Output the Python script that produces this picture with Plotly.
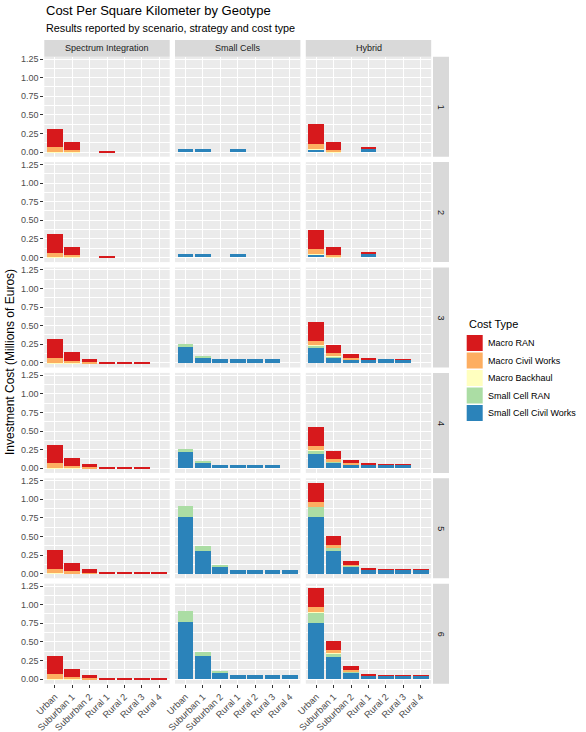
import plotly.graph_objects as go

W, H = 586, 732

geotypes = ["Urban", "Suburban 1", "Suburban 2", "Rural 1", "Rural 2", "Rural 3", "Rural 4"]
strategies = ["Spectrum Integration", "Small Cells", "Hybrid"]
scenarios = ["1", "2", "3", "4", "5", "6"]
cost_types = ["Macro RAN", "Macro Civil Works", "Macro Backhaul", "Small Cell RAN", "Small Cell Civil Works"]
cost_colors = ["#D7191C", "#FDAE61", "#FFFFBF", "#ABDDA4", "#2B83BA"]

# ---- Spectrum Integration (one row of 7 geotypes per scenario) ----
si_macro_ran = [
    [0.250, 0.108, 0.000, 0.008, 0.000, 0.000, 0.000],
    [0.250, 0.108, 0.000, 0.008, 0.000, 0.000, 0.000],
    [0.252, 0.110, 0.045, 0.013, 0.007, 0.006, 0.000],
    [0.252, 0.110, 0.045, 0.013, 0.007, 0.006, 0.000],
    [0.252, 0.110, 0.045, 0.013, 0.007, 0.006, 0.006],
    [0.252, 0.110, 0.045, 0.013, 0.007, 0.006, 0.006],
]
si_macro_civil = [
    [0.060, 0.028, 0.000, 0.003, 0.000, 0.000, 0.000],
    [0.060, 0.028, 0.000, 0.003, 0.000, 0.000, 0.000],
    [0.062, 0.030, 0.012, 0.004, 0.002, 0.002, 0.000],
    [0.062, 0.030, 0.012, 0.004, 0.002, 0.002, 0.000],
    [0.062, 0.030, 0.012, 0.004, 0.002, 0.002, 0.002],
    [0.062, 0.030, 0.012, 0.004, 0.002, 0.002, 0.002],
]
si_macro_backhaul = [
    [0.003, 0.002, 0.000, 0.000, 0.000, 0.000, 0.000],
    [0.003, 0.002, 0.000, 0.000, 0.000, 0.000, 0.000],
    [0.003, 0.002, 0.001, 0.000, 0.000, 0.000, 0.000],
    [0.003, 0.002, 0.001, 0.000, 0.000, 0.000, 0.000],
    [0.003, 0.002, 0.001, 0.000, 0.000, 0.000, 0.000],
    [0.003, 0.002, 0.001, 0.000, 0.000, 0.000, 0.000],
]

# ---- Small Cells ----
sc_small_ran = [
    [0.000, 0.000, 0.000, 0.000, 0.000, 0.000, 0.000],
    [0.000, 0.000, 0.000, 0.000, 0.000, 0.000, 0.000],
    [0.040, 0.012, 0.000, 0.000, 0.000, 0.000, 0.000],
    [0.040, 0.012, 0.000, 0.000, 0.000, 0.000, 0.000],
    [0.150, 0.060, 0.010, 0.000, 0.000, 0.000, 0.000],
    [0.150, 0.060, 0.010, 0.000, 0.000, 0.000, 0.000],
]
sc_small_civil = [
    [0.045, 0.045, 0.000, 0.045, 0.000, 0.000, 0.000],
    [0.045, 0.045, 0.000, 0.045, 0.000, 0.000, 0.000],
    [0.218, 0.082, 0.050, 0.050, 0.050, 0.050, 0.000],
    [0.218, 0.082, 0.050, 0.050, 0.050, 0.050, 0.000],
    [0.762, 0.307, 0.096, 0.052, 0.052, 0.052, 0.052],
    [0.762, 0.307, 0.096, 0.052, 0.052, 0.052, 0.052],
]

# ---- Hybrid ----
hy_macro_ran = [
    [0.258, 0.110, 0.000, 0.014, 0.000, 0.000, 0.000],
    [0.258, 0.110, 0.000, 0.014, 0.000, 0.000, 0.000],
    [0.258, 0.108, 0.049, 0.013, 0.000, 0.003, 0.000],
    [0.258, 0.108, 0.049, 0.013, 0.004, 0.003, 0.000],
    [0.256, 0.121, 0.057, 0.013, 0.003, 0.003, 0.003],
    [0.256, 0.121, 0.057, 0.013, 0.003, 0.003, 0.003],
]
hy_macro_civil = [
    [0.066, 0.027, 0.000, 0.005, 0.000, 0.000, 0.000],
    [0.066, 0.027, 0.000, 0.005, 0.000, 0.000, 0.000],
    [0.058, 0.038, 0.018, 0.008, 0.000, 0.003, 0.000],
    [0.058, 0.038, 0.018, 0.008, 0.003, 0.003, 0.000],
    [0.066, 0.045, 0.018, 0.006, 0.002, 0.002, 0.002],
    [0.066, 0.045, 0.018, 0.006, 0.002, 0.002, 0.002],
]
hy_macro_backhaul = [
    [0.003, 0.002, 0.000, 0.000, 0.000, 0.000, 0.000],
    [0.003, 0.002, 0.000, 0.000, 0.000, 0.000, 0.000],
    [0.003, 0.002, 0.001, 0.000, 0.000, 0.000, 0.000],
    [0.003, 0.002, 0.001, 0.000, 0.000, 0.000, 0.000],
    [0.003, 0.002, 0.001, 0.000, 0.000, 0.000, 0.000],
    [0.003, 0.002, 0.001, 0.000, 0.000, 0.000, 0.000],
]
hy_small_ran = [
    [0.000, 0.000, 0.000, 0.000, 0.000, 0.000, 0.000],
    [0.000, 0.000, 0.000, 0.000, 0.000, 0.000, 0.000],
    [0.040, 0.008, 0.000, 0.000, 0.000, 0.000, 0.000],
    [0.040, 0.008, 0.000, 0.000, 0.000, 0.000, 0.000],
    [0.139, 0.045, 0.004, 0.000, 0.000, 0.000, 0.000],
    [0.139, 0.045, 0.004, 0.000, 0.000, 0.000, 0.000],
]
hy_small_civil = [
    [0.045, 0.000, 0.000, 0.050, 0.000, 0.000, 0.000],
    [0.045, 0.000, 0.000, 0.050, 0.000, 0.000, 0.000],
    [0.197, 0.080, 0.048, 0.050, 0.050, 0.050, 0.000],
    [0.197, 0.080, 0.048, 0.050, 0.050, 0.050, 0.000],
    [0.756, 0.300, 0.097, 0.052, 0.052, 0.052, 0.052],
    [0.756, 0.300, 0.097, 0.052, 0.052, 0.052, 0.052],
]

series = {
    "Spectrum Integration": {"Macro RAN": si_macro_ran, "Macro Civil Works": si_macro_civil,
                             "Macro Backhaul": si_macro_backhaul},
    "Small Cells": {"Small Cell RAN": sc_small_ran, "Small Cell Civil Works": sc_small_civil},
    "Hybrid": {"Macro RAN": hy_macro_ran, "Macro Civil Works": hy_macro_civil,
               "Macro Backhaul": hy_macro_backhaul, "Small Cell RAN": hy_small_ran,
               "Small Cell Civil Works": hy_small_civil},
}

FONT = "Liberation Sans, Arial, Helvetica, sans-serif"

def fx(px):
    return px / W

def fy(py):
    return 1 - py / H

col_left = [44.3, 175.0, 305.8]
col_w = 125.4
row_top0 = 56.7
row_pitch = 105.4
row_h = 100.0
strip_top = 40.0
strip_x0, strip_x1 = 433.0, 449.0

y_range = [-0.062, 1.282]
y_ticks = [0, 0.25, 0.5, 0.75, 1.0, 1.25]
y_ticktext = ["0.00", "0.25", "0.50", "0.75", "1.00", "1.25"]

fig = go.Figure()
layout = {}
shapes = []
annotations = []

def note(text, x, y, size, color="black", xanchor="center", yanchor="middle", angle=0):
    annotations.append(dict(text=text, xref="paper", yref="paper", x=fx(x), y=fy(y),
                            xanchor=xanchor, yanchor=yanchor, showarrow=False,
                            textangle=angle,
                            font=dict(family=FONT, size=size, color=color)))

for r, scen in enumerate(scenarios):
    top = row_top0 + r * row_pitch
    bot = top + row_h
    for c, strat in enumerate(strategies):
        n = r * 3 + c + 1
        xa = "x" if n == 1 else f"x{n}"
        ya = "y" if n == 1 else f"y{n}"
        xkey = "xaxis" if n == 1 else f"xaxis{n}"
        ykey = "yaxis" if n == 1 else f"yaxis{n}"
        bottom_row = r == len(scenarios) - 1
        left_col = c == 0
        layout[xkey] = dict(
            domain=[fx(col_left[c]), fx(col_left[c] + col_w)],
            anchor=ya, type="category", categoryorder="array", categoryarray=geotypes,
            range=[-0.6, 6.6], showgrid=True, gridcolor="white", gridwidth=1.1,
            zeroline=False, showline=False, fixedrange=True, automargin=False,
            ticks="outside" if bottom_row else "", ticklen=3, tickwidth=1, tickcolor="#333333",
            showticklabels=bottom_row, tickangle=-45,
            tickfont=dict(family=FONT, size=9.3, color="#4D4D4D"),
        )
        layout[ykey] = dict(
            domain=[fy(bot), fy(top)], anchor=xa, range=y_range,
            tickmode="array", tickvals=y_ticks, ticktext=y_ticktext,
            showgrid=True, gridcolor="white", gridwidth=1.1, zeroline=False, showline=False,
            minor=dict(tickmode="array", tickvals=[0.125, 0.375, 0.625, 0.875, 1.125],
                       showgrid=True, gridcolor="white", gridwidth=0.5, ticks=""),
            ticks="outside" if left_col else "", ticklen=3, tickwidth=1, tickcolor="#333333",
            showticklabels=left_col, fixedrange=True, automargin=False,
            tickfont=dict(family=FONT, size=9, color="#4D4D4D"),
        )
        for ct in reversed(cost_types):
            if ct not in series[strat]:
                continue
            vals = series[strat][ct][r]
            fig.add_trace(go.Bar(
                x=geotypes, y=vals, xaxis=xa, yaxis=ya, width=0.9,
                marker=dict(color=cost_colors[cost_types.index(ct)], line=dict(width=0)),
                name=ct, showlegend=False,
            ))
    shapes.append(dict(type="rect", xref="paper", yref="paper",
                       x0=fx(strip_x0), x1=fx(strip_x1), y0=fy(bot), y1=fy(top),
                       fillcolor="#D9D9D9", line=dict(width=0), layer="below"))
    note(scen, (strip_x0 + strip_x1) / 2, (top + bot) / 2, 9, "#1A1A1A", angle=90)

for c, strat in enumerate(strategies):
    shapes.append(dict(type="rect", xref="paper", yref="paper",
                       x0=fx(col_left[c]), x1=fx(col_left[c] + col_w),
                       y0=fy(row_top0), y1=fy(strip_top),
                       fillcolor="#D9D9D9", line=dict(width=0), layer="below"))
    note(strat, col_left[c] + col_w / 2, (strip_top + row_top0) / 2, 9, "#1A1A1A")

note("Cost Per Square Kilometer by Geotype", 44, 11, 13, xanchor="left")
note("Results reported by scenario, strategy and cost type", 44, 28, 10.8, xanchor="left")
note("Investment Cost (Millions of Euros)", 10, 362, 12, angle=-90)

note("Cost Type", 466.5, 324, 11, xanchor="left")
for i, (ct, col) in enumerate(zip(cost_types, cost_colors)):
    y0 = 335 + i * 17.5
    shapes.append(dict(type="rect", xref="paper", yref="paper",
                       x0=fx(466.7), x1=fx(482.7), y0=fy(y0 + 16), y1=fy(y0),
                       fillcolor=col, line=dict(width=0)))
    note(ct, 486, y0 + 8, 9, xanchor="left")

fig.update_layout(
    **layout,
    barmode="stack", bargap=0.1,
    width=W, height=H, autosize=False,
    margin=dict(l=0, r=0, t=0, b=0, pad=0),
    paper_bgcolor="white", plot_bgcolor="#EBEBEB",
    shapes=shapes, annotations=annotations,
    showlegend=False,
    font=dict(family=FONT),
)

fig.write_html("out.html", config={"displayModeBar": False},
               post_script="document.body.style.margin='0';document.body.style.overflow='hidden';")
